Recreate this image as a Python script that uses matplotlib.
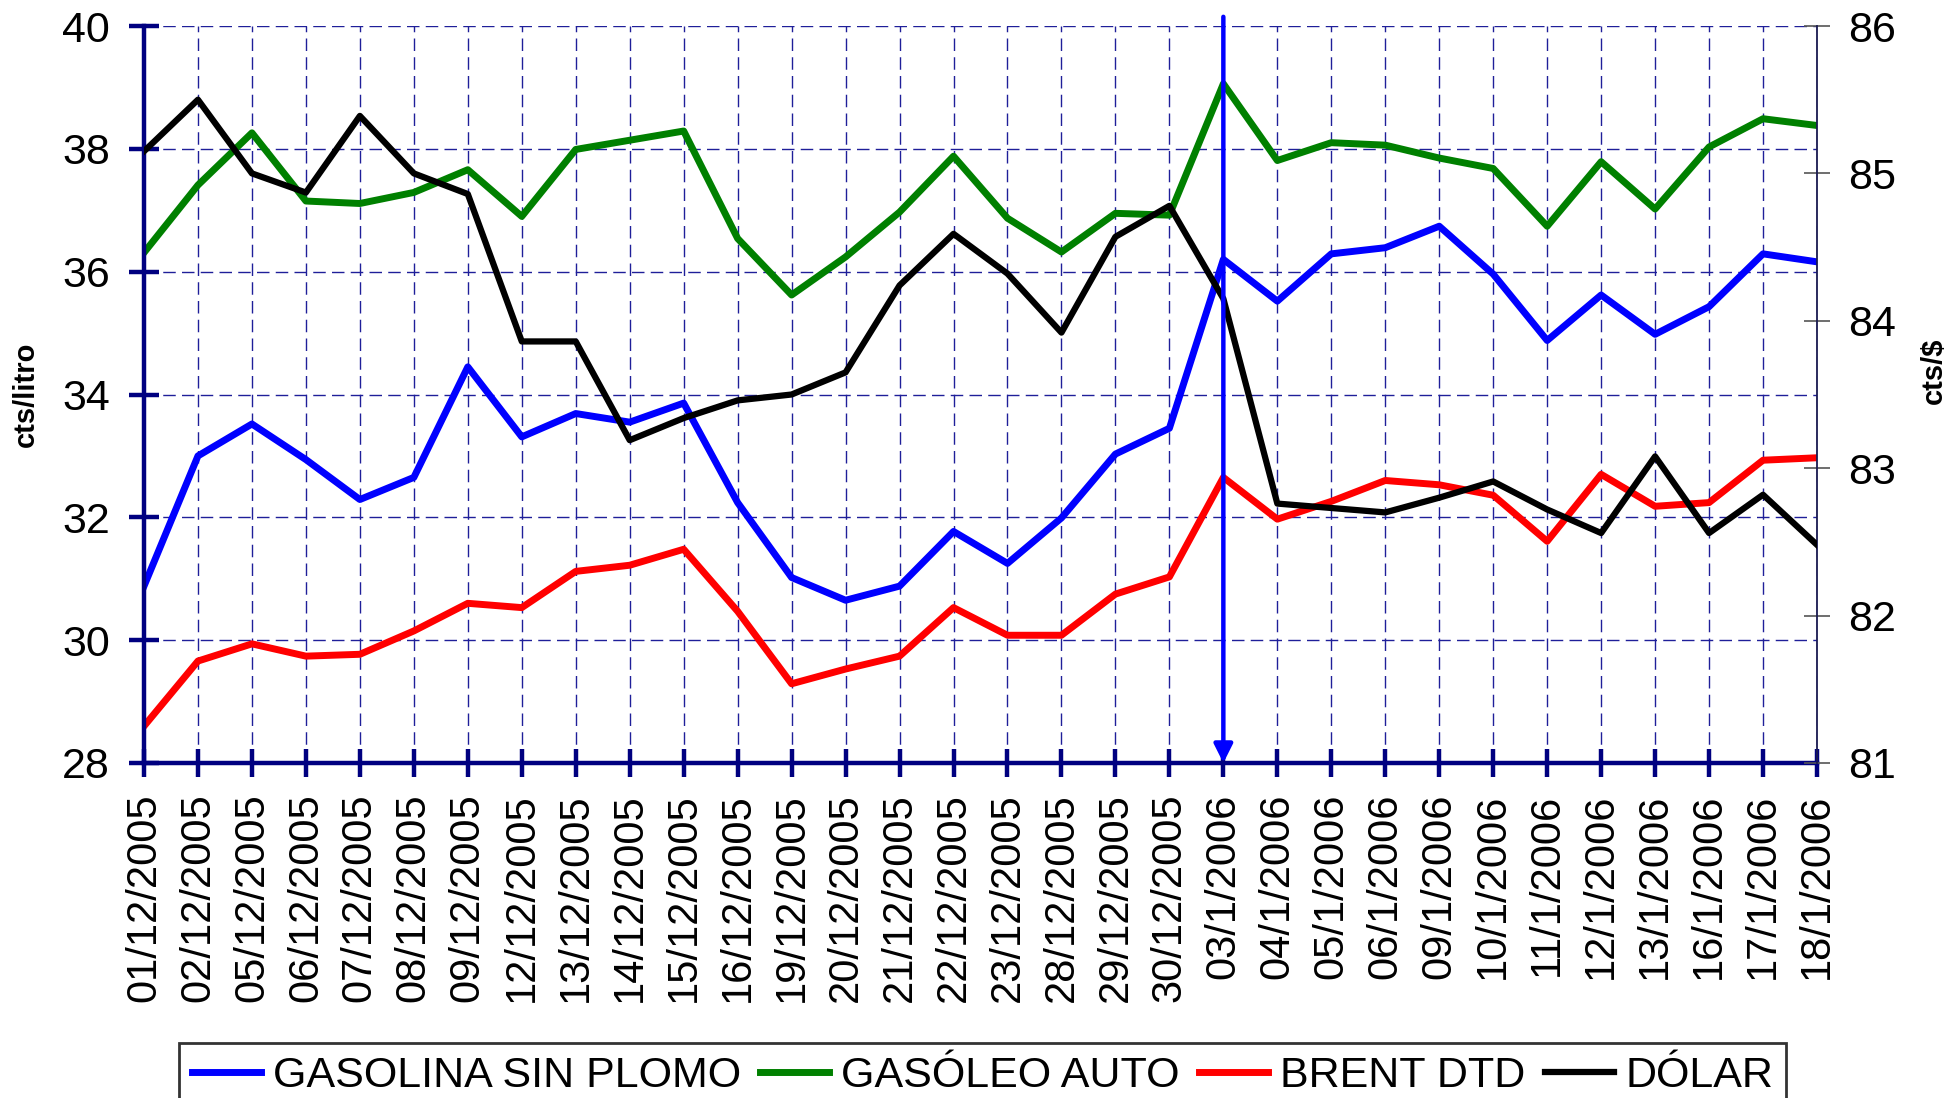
import matplotlib
matplotlib.use("Agg")
import matplotlib.pyplot as plt
from matplotlib.ticker import FixedLocator

plt.rcParams['font.family'] = ['Liberation Sans', 'DejaVu Sans']

fechas = ["01/12/2005", "02/12/2005", "05/12/2005", "06/12/2005", "07/12/2005",
          "08/12/2005", "09/12/2005", "12/12/2005", "13/12/2005", "14/12/2005",
          "15/12/2005", "16/12/2005", "19/12/2005", "20/12/2005", "21/12/2005",
          "22/12/2005", "23/12/2005", "28/12/2005", "29/12/2005", "30/12/2005",
          "03/1/2006", "04/1/2006", "05/1/2006", "06/1/2006", "09/1/2006",
          "10/1/2006", "11/1/2006", "12/1/2006", "13/1/2006", "16/1/2006",
          "17/1/2006", "18/1/2006"]

gasolina = [30.88, 33.00, 33.52, 32.94, 32.29, 32.65, 34.45, 33.31, 33.69, 33.55,
            33.86, 32.24, 31.02, 30.65, 30.88, 31.77, 31.25, 31.99, 33.03, 33.45,
            36.20, 35.52, 36.29, 36.39, 36.74, 35.96, 34.88, 35.62, 34.98, 35.43,
            36.29, 36.16]
gasoleo = [36.31, 37.41, 38.26, 37.15, 37.11, 37.29, 37.66, 36.90, 37.99, 38.14,
           38.29, 36.54, 35.62, 36.24, 36.97, 37.88, 36.87, 36.32, 36.95, 36.92,
           39.06, 37.81, 38.10, 38.06, 37.85, 37.68, 36.74, 37.79, 37.02, 38.03,
           38.49, 38.38]
brent = [28.60, 29.66, 29.94, 29.74, 29.77, 30.15, 30.60, 30.53, 31.12, 31.22,
         31.48, 30.47, 29.29, 29.53, 29.74, 30.53, 30.08, 30.08, 30.75, 31.03,
         32.65, 31.97, 32.26, 32.60, 32.53, 32.36, 31.61, 32.70, 32.18, 32.24,
         32.93, 32.97]
dolar = [85.15, 85.50, 85.00, 84.87, 85.39, 85.00, 84.86, 83.86, 83.86, 83.19,
         83.34, 83.46, 83.50, 83.65, 84.24, 84.59, 84.32, 83.92, 84.57, 84.78,
         84.15, 82.76, 82.73, 82.70, 82.80, 82.91, 82.72, 82.56, 83.08, 82.56,
         82.82, 82.48]

left_ticks = [28, 30, 32, 34, 36, 38, 40]
right_ticks = [81, 82, 83, 84, 85, 86]
marca_idx = 20  # 03/1/2006

NAVY = '#000080'
W, H = 1959, 1098
fig = plt.figure(figsize=(W / 100, H / 100), dpi=100)
ax = fig.add_axes([144 / W, 1 - 763 / H, (1817 - 144) / W, (763 - 26) / H])

x = list(range(len(fechas)))
ax.plot(x, gasolina, color='#0000FF', lw=5.0, label='GASOLINA SIN PLOMO', zorder=3)
ax.plot(x, gasoleo, color='#008000', lw=5.0, label='GASÓLEO AUTO', zorder=3)
ax.plot(x, brent, color='#FF0000', lw=5.0, label='BRENT DTD', zorder=3)

ax.set_xlim(0, len(fechas) - 1)
ax.set_ylim(left_ticks[0], left_ticks[-1])
ax.yaxis.set_major_locator(FixedLocator(left_ticks))
ax.set_yticklabels([str(t) for t in left_ticks])
ax.set_xticks(x)
ax.set_xticklabels(fechas, rotation=90)

grid_kw = dict(color='#1f1f99', lw=1.0, linestyle=(0, (9, 4.5)))
ax.grid(True, axis='both', **grid_kw)
ax.set_axisbelow(True)

for s in ['top', 'right']:
    ax.spines[s].set_visible(False)
for s in ['left', 'bottom']:
    ax.spines[s].set_color(NAVY)
    ax.spines[s].set_linewidth(3.2)
    ax.spines[s].set_zorder(4)

ax.tick_params(axis='y', direction='inout', length=21, width=3.2, color=NAVY,
               labelsize=31, pad=14)
ax.tick_params(axis='x', direction='inout', length=20, width=3.2, color=NAVY,
               labelsize=30, pad=12)
ax.set_ylabel('cts/litro', fontsize=21, fontweight='bold')
ax.yaxis.set_label_coords(-0.062, 0.5)

ax2 = ax.twinx()
ax2.plot(x, dolar, color='#000000', lw=4.5, label='DÓLAR', zorder=3)
ax2.set_ylim(right_ticks[0], right_ticks[-1])
ax2.yaxis.set_major_locator(FixedLocator(right_ticks))
ax2.set_yticklabels([str(t) for t in right_ticks])
for s in ['top', 'left', 'bottom']:
    ax2.spines[s].set_visible(False)
ax2.spines['right'].set_color('#1a1a50')
ax2.spines['right'].set_linewidth(1.3)
ax2.tick_params(axis='y', direction='inout', length=19, width=1.2, color='#555555',
                labelsize=31, pad=13)
ax2.set_ylabel('cts/$', fontsize=21, fontweight='bold')
ax2.yaxis.set_label_coords(1.0616, 0.532)

# vertical arrow marking 03/1/2006
ax2.annotate('', xy=(marca_idx, left_ticks[0]), xycoords=ax.transData,
             xytext=(marca_idx, left_ticks[-1] + 0.15), textcoords=ax.transData,
             arrowprops=dict(arrowstyle='-|>', color='#0000FF', lw=3.2,
                             mutation_scale=28, shrinkA=0, shrinkB=0),
             annotation_clip=False, zorder=6)

h1, l1 = ax.get_legend_handles_labels()
h2, l2 = ax2.get_legend_handles_labels()
leg = fig.legend(h1 + h2, l1 + l2, loc='upper left',
                 bbox_to_anchor=(179 / W, 1 - 1043 / H), bbox_transform=fig.transFigure,
                 ncol=4, fontsize=31, frameon=True, fancybox=False, shadow=False,
                 edgecolor='black', borderaxespad=0, borderpad=0.3,
                 handlelength=1.6, handletextpad=0.28, columnspacing=0.45)
leg.get_frame().set_linewidth(2.0)

fig.savefig('out.png', dpi=100)
